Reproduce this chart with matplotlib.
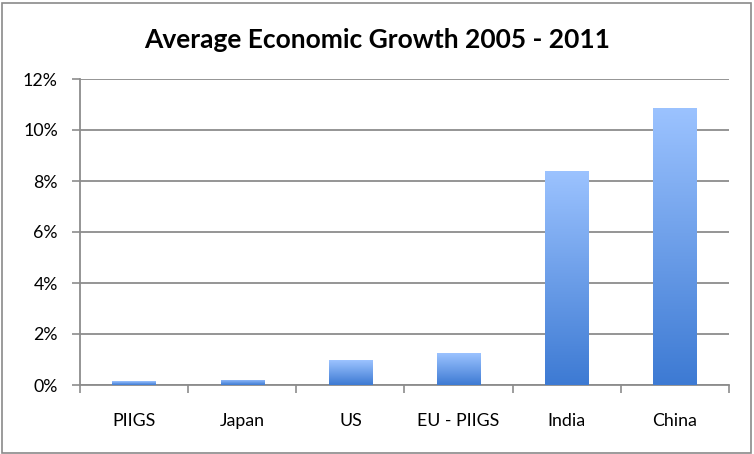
import numpy as np
import matplotlib.pyplot as plt
from matplotlib.colors import LinearSegmentedColormap
from matplotlib.patches import Rectangle
from matplotlib.ticker import FuncFormatter, FixedLocator

countries = ["PIIGS", "Japan", "US", "EU - PIIGS", "India", "China"]
growth = [0.15, 0.20, 0.98, 1.25, 8.40, 10.88]

plt.rcParams['font.family'] = ['Lato', 'DejaVu Sans']

fig = plt.figure(figsize=(7.54, 4.54), dpi=100)
ax = fig.add_axes([80/754, 69/454, 649/754, 306/454])

# outer border of the chart
fig.patches.append(Rectangle((2/754, 1/454), 749/754, 450/454, transform=fig.transFigure,
                             fill=False, edgecolor="#8a8a8a", linewidth=1.2))

grad = LinearSegmentedColormap.from_list("g", ["#3d7ad3", "#9cc3ff"])
x = np.arange(len(countries))
bars = ax.bar(x, growth, width=0.4, color="none", edgecolor="none", zorder=3)
img = np.linspace(0, 1, 256).reshape(-1, 1)
for b in bars:
    x0, y0 = b.get_x(), b.get_y()
    w, h = b.get_width(), b.get_height()
    im = ax.imshow(img, cmap=grad, origin="lower", aspect="auto",
                   extent=[x0, x0 + w, y0, y0 + h], zorder=3)
    im.set_clip_path(b)

ax.set_xlim(-0.5, len(countries) - 0.5)
ax.set_ylim(0, 12)
ax.set_yticks(range(0, 13, 2))
ax.yaxis.set_major_formatter(FuncFormatter(lambda v, p: f"{v:.0f}%"))
ax.grid(axis="y", color="#8c8c8c", linewidth=1.3, zorder=0)

ax.set_xticks(x)
ax.set_xticklabels(countries)
ax.xaxis.set_minor_locator(FixedLocator(np.arange(-0.5, len(countries), 1)))
ax.tick_params(axis="x", which="major", length=0, pad=20, labelsize=12.8)
ax.tick_params(axis="x", which="minor", length=6, width=1.2, color="#8c8c8c")
ax.tick_params(axis="y", length=6, width=1.2, color="#8c8c8c", pad=10, labelsize=12.8)

for s in ["top", "right"]:
    ax.spines[s].set_visible(False)
for s in ["left", "bottom"]:
    ax.spines[s].set_color("#8c8c8c")
    ax.spines[s].set_linewidth(1.3)

fig.text(0.5, 1 - 40/454, "Average Economic Growth 2005 - 2011", ha="center", va="center",
         fontsize=19, fontweight="bold")

fig.savefig("out.png", dpi=100)
